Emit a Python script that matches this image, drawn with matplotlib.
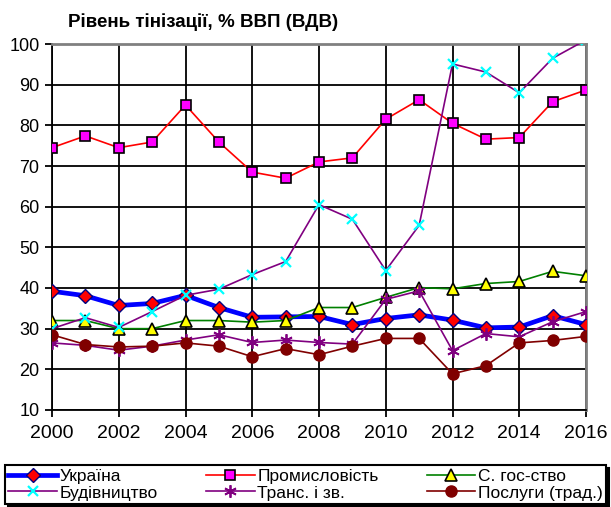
import numpy as np
import matplotlib.pyplot as plt

plt.rcParams['font.family'] = ['Liberation Sans', 'DejaVu Sans']

years = list(range(2000, 2017))

ukraina = [39.2, 38.1, 35.7, 36.2, 38.2, 35.2, 32.8, 32.9, 33.0, 31.0,
           32.5, 33.4, 32.1, 30.2, 30.4, 33.2, 31.0]
promysl = [74.5, 77.4, 74.5, 75.9, 85.0, 75.9, 68.5, 67.0, 71.0, 72.0,
           81.5, 86.3, 80.5, 76.6, 77.0, 85.8, 88.7]
s_gosp = [32.0, 32.0, 30.0, 30.0, 32.0, 32.0, 31.6, 32.0, 35.2, 35.2,
          37.7, 40.1, 39.8, 41.1, 41.6, 44.1, 43.0]
budivn = [30.0, 32.7, 30.3, 34.2, 38.2, 39.7, 43.3, 46.5, 60.5, 56.9,
          44.3, 55.4, 95.1, 93.1, 88.0, 96.5, 101.0]
transp = [26.5, 25.9, 24.7, 25.7, 27.2, 28.5, 26.6, 27.2, 26.6, 26.2,
          37.2, 39.3, 24.6, 28.8, 28.0, 31.7, 34.2]
posluhy = [28.5, 26.1, 25.5, 25.7, 26.5, 25.7, 23.1, 25.1, 23.6, 25.7,
           27.6, 27.6, 18.9, 20.9, 26.5, 27.1, 28.1]

fig = plt.figure(figsize=(6.11, 5.07), dpi=100)
ax = fig.add_axes([52/611, 1 - 410/507, (586 - 52)/611, (410 - 44)/507])

ax.plot(years, ukraina, color='#0000ff', lw=3.4, marker='D', ms=7,
        mfc='#ff0000', mec='#000080', mew=1, label='Україна', zorder=3)
ax.plot(years, promysl, color='#ff0000', lw=1.2, marker='s', ms=7.5,
        mfc='#ff00ff', mec='#000000', mew=1.2, label='Промисловість', zorder=4)
ax.plot(years, s_gosp, color='#008000', lw=1.2, marker='^', ms=9,
        mfc='#ffff00', mec='#000000', mew=1.2, label='С. гос-ство', zorder=5)
ax.plot(years, budivn, color='#800080', lw=1.2, marker='x', ms=7,
        mec='#00ffff', mew=1.6, label='Будівництво', zorder=6)
ax.plot(years, transp, color='#800080', lw=1.2, marker=(6, 2, 0), ms=9,
        mec='#800080', mew=1.3, label='Транс. і зв.', zorder=7)
ax.plot(years, posluhy, color='#800000', lw=1.2, marker='o', ms=8,
        mfc='#800000', mec='#800000', label='Послуги (трад.)', zorder=8)

ax.set_xlim(2000, 2016)
ax.set_ylim(10, 100)
ax.set_xticks(range(2000, 2017, 2))
ax.set_yticks(range(10, 101, 10))
ax.grid(True, color='black', lw=1.3)
ax.set_axisbelow(True)
ax.tick_params(axis='both', direction='out', length=5, width=1.3, color='black')
ax.tick_params(axis='y', labelsize=13, pad=4)
ax.tick_params(axis='x', labelsize=14, pad=6)
ax.spines['left'].set_color('black')
ax.spines['left'].set_linewidth(1.3)
ax.spines['bottom'].set_color('black')
ax.spines['bottom'].set_linewidth(1.3)
for s in ['top', 'right']:
    ax.spines[s].set_color('#808080')
    ax.spines[s].set_linewidth(2)

fig.text(68/611, 1 - 22/507, 'Рівень тінізації, % ВВП (ВДВ)',
         fontsize=13.5, fontweight='bold', va='center', ha='left')

h, l = ax.get_legend_handles_labels()
order = [0, 3, 1, 4, 2, 5]
leg = fig.legend([h[i] for i in order], [l[i] for i in order], ncol=3,
                 loc='lower left', bbox_to_anchor=(5/611, 3/507, 601/611, 42/507),
                 mode='expand', fontsize=12.5, frameon=True, fancybox=False,
                 edgecolor='black', handlelength=2.8, handletextpad=0.15,
                 columnspacing=0.8, labelspacing=0.1, borderpad=0.2,
                 borderaxespad=0, shadow={'color': 'black', 'alpha': 1})
leg.get_frame().set_linewidth(1.5)

fig.savefig('out.png', dpi=100)
